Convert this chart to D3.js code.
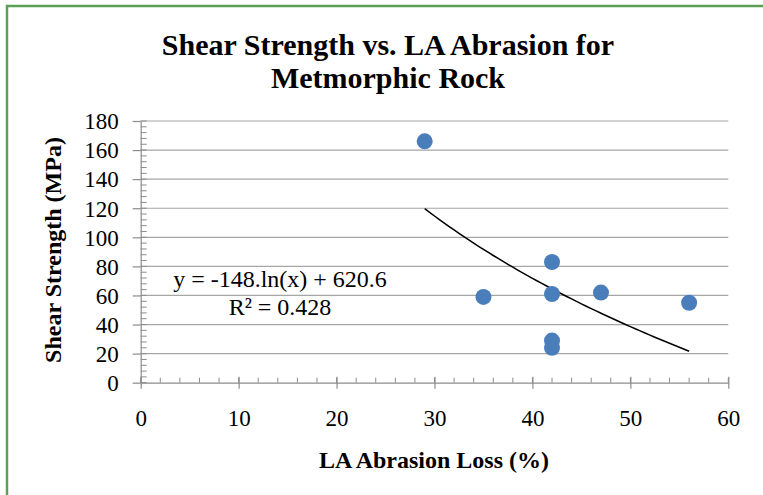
<!DOCTYPE html>
<html>
<head>
    <script src="https://d3js.org/d3.v7.min.js"></script>
    <title>Shear Strength vs. LA Abrasion</title>
</head>
<style>
    body {
        margin: 0;
        background-color: white;
        font-family: 'Liberation Serif', 'Times New Roman', serif;
    }
</style>
<body>
<div id="chart"></div>
<script>
  // data
  var abrasionLoss = [29, 35, 42, 42, 47, 56, 42, 42];
  var shearStrength = [166, 59, 83, 61, 62, 55, 29, 24];

  var xTicks = [0, 10, 20, 30, 40, 50, 60];
  var yTicks = [0, 20, 40, 60, 80, 100, 120, 140, 160, 180];

  var titleLines = ["Shear Strength vs. LA Abrasion for", "Metmorphic Rock"];
  var trendLabel = "y = -148.ln(x) + 620.6";
  var r2Label = "R² = 0.428";

  var serif = "'Liberation Serif', 'Times New Roman', serif";

  var svg = d3.select("#chart").append("svg")
      .attr("width", 763)
      .attr("height", 495);

  // outer frame
  svg.append("rect")
      .attr("x", 7)
      .attr("y", 6)
      .attr("width", 770)
      .attr("height", 500)
      .attr("fill", "white")
      .attr("stroke", "#5b9f55")
      .attr("stroke-width", 2.5);

  var x = d3.scaleLinear().domain([0, 60]).range([140.7, 728.3]);
  var y = d3.scaleLinear().domain([0, 180]).range([382.7, 121]);

  // gridlines
  svg.selectAll("line.grid")
      .data(yTicks.filter(function(d) { return d > 0; }))
      .enter()
      .append("line")
      .attr("class", "grid")
      .attr("x1", x(0))
      .attr("x2", x(60))
      .attr("y1", function(d) { return y(d); })
      .attr("y2", function(d) { return y(d); })
      .attr("stroke", "#a6a6a6")
      .attr("stroke-width", 1.2);

  var axisColor = "#8c8c8c";

  // minor ticks
  svg.selectAll("line.xminor")
      .data(d3.range(0, 61, 2))
      .enter()
      .append("line")
      .attr("x1", function(d) { return x(d); })
      .attr("x2", function(d) { return x(d); })
      .attr("y1", y(0))
      .attr("y2", y(0) - 5)
      .attr("stroke", axisColor);

  svg.selectAll("line.yminor")
      .data(d3.range(0, 181, 4))
      .enter()
      .append("line")
      .attr("x1", x(0))
      .attr("x2", x(0) + 6)
      .attr("y1", function(d) { return y(d); })
      .attr("y2", function(d) { return y(d); })
      .attr("stroke", axisColor);

  // axes
  var xAxis = svg.append("g")
      .attr("transform", "translate(0," + y(0) + ")")
      .call(d3.axisBottom(x).tickValues(xTicks).tickSize(6).tickSizeOuter(0));

  xAxis.selectAll(".tick line").attr("y1", -6);
  xAxis.selectAll(".tick text").attr("y", 43).attr("dy", 0);

  var yAxis = svg.append("g")
      .attr("transform", "translate(" + x(0) + ",0)")
      .call(d3.axisLeft(y).tickValues(yTicks).tickSize(8).tickSizeOuter(0).tickPadding(14));

  svg.selectAll(".domain, .tick line")
      .attr("stroke", axisColor)
      .attr("stroke-width", 1.2);

  svg.selectAll(".tick text")
      .attr("font-family", serif)
      .attr("font-size", "23px")
      .attr("fill", "black");

  yAxis.selectAll(".tick text").attr("dy", "0.34em");

  // logarithmic least-squares trendline from the points
  var lnX = abrasionLoss.map(Math.log);
  var mx = d3.mean(lnX), my = d3.mean(shearStrength);
  var sxy = d3.sum(lnX, function(v, i) { return (v - mx) * (shearStrength[i] - my); });
  var sxx = d3.sum(lnX, function(v) { return (v - mx) * (v - mx); });
  var slope = sxy / sxx;
  var intercept = my - slope * mx;

  var trendData = d3.range(d3.min(abrasionLoss), d3.max(abrasionLoss) + 0.01, 0.5).map(function(v) {
      return { x: v, y: slope * Math.log(v) + intercept };
  });

  var trendLine = d3.line()
      .x(function(d) { return x(d.x); })
      .y(function(d) { return y(d.y); });

  svg.append("path")
      .attr("d", trendLine(trendData))
      .attr("fill", "none")
      .attr("stroke", "black")
      .attr("stroke-width", 1.5);

  // points
  svg.selectAll("circle")
      .data(abrasionLoss)
      .enter()
      .append("circle")
      .attr("cx", function(d) { return x(d); })
      .attr("cy", function(d, i) { return y(shearStrength[i]); })
      .attr("r", 8)
      .attr("fill", "#4a7ebb");

  // equation labels
  svg.append("text")
      .attr("x", 280)
      .attr("y", 287)
      .attr("text-anchor", "middle")
      .attr("font-size", "24px")
      .text(trendLabel);

  svg.append("text")
      .attr("x", 280)
      .attr("y", 315)
      .attr("text-anchor", "middle")
      .attr("font-size", "24px")
      .text(r2Label);

  // titles
  svg.selectAll("text.title")
      .data(titleLines)
      .enter()
      .append("text")
      .attr("class", "title")
      .attr("x", 388)
      .attr("y", function(d, i) { return 54.5 + i * 33.5; })
      .attr("text-anchor", "middle")
      .attr("font-size", "30px")
      .attr("font-weight", "bold")
      .text(function(d) { return d; });

  svg.append("text")
      .attr("x", 434)
      .attr("y", 468)
      .attr("text-anchor", "middle")
      .attr("font-size", "24px")
      .attr("font-weight", "bold")
      .text("LA Abrasion Loss (%)");

  svg.append("text")
      .attr("transform", "translate(61,250) rotate(-90)")
      .attr("text-anchor", "middle")
      .attr("font-size", "24px")
      .attr("font-weight", "bold")
      .text("Shear Strength (MPa)");
</script>
</body>
</html>
